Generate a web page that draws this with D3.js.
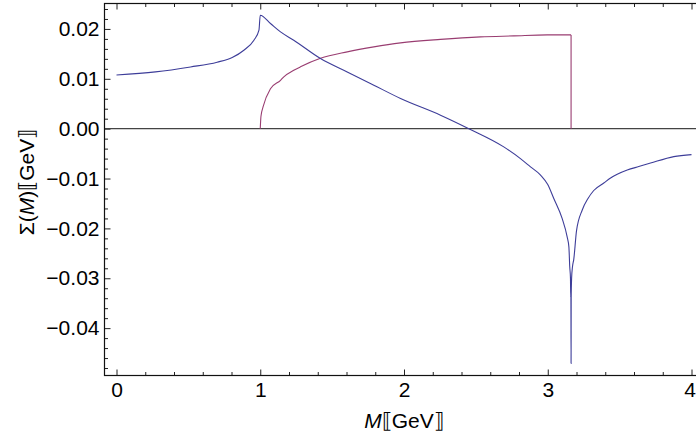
<!DOCTYPE html>
<html>
<head>
<meta charset="utf-8">
<script src="https://cdn.jsdelivr.net/npm/d3@7"></script>
<style>
  html, body { margin: 0; padding: 0; background: #fff; }
  svg { display: block; }
  .tick text { font-family: "Liberation Sans", Arial, sans-serif; font-size: 21px; fill: #000; }
  .lbl { font-family: "Liberation Sans", Arial, sans-serif; font-size: 21px; fill: #000; }
</style>
</head>
<body>
<svg id="chart" width="696" height="438"></svg>
<script>
const blueM = [0, 0.271, 0.515, 0.70, 0.805, 0.886, 0.956, 0.991, 1.0,
  1.071, 1.141, 1.233, 1.419, 1.605, 1.79, 1.976, 2.254, 2.451, 2.694, 2.81,
  2.88, 2.95, 3.0, 3.042, 3.10, 3.135, 3.147, 3.153, 3.158, 3.160, 3.161,
  3.1623, 3.163, 3.166, 3.172, 3.181, 3.20, 3.24, 3.28, 3.32, 3.39, 3.437,
  3.553, 3.633, 3.715, 3.877, 4.0];
const blueSigma = [0.01076, 0.01138, 0.01238, 0.01333, 0.01427, 0.01573, 0.01774, 0.01975, 0.02275,
  0.02108, 0.0194, 0.01774, 0.01407, 0.01138, 0.00872, 0.00605, 0.00271, 0.0, -0.00365, -0.0060,
  -0.00765, -0.0093, -0.0112, -0.0140, -0.0180, -0.0217, -0.0237, -0.0277, -0.0300, -0.0338, -0.0330,
  -0.0471, -0.0340, -0.0300, -0.0277, -0.0262, -0.0205, -0.0163, -0.0140, -0.0124, -0.0109, -0.0099,
  -0.0083, -0.0076, -0.0069, -0.0056, -0.0052];

// imaginary part (red), drops back to zero at the threshold
const redM = [1.0, 1.005, 1.02, 1.071, 1.141, 1.164, 1.233, 1.28, 1.419, 1.605,
  1.79, 1.976, 2.254, 2.532, 2.764, 2.996, 3.1623];
const redSigma = [0, 0.0025, 0.0044, 0.0080, 0.0097, 0.0104, 0.0117, 0.0124, 0.0141, 0.0154,
  0.0164, 0.0172, 0.0179, 0.0184, 0.0186, 0.0188, 0.0188];
const redDropSigma = 0;

const xTicks = [0, 1, 2, 3, 4];
const xMinor = [0.2, 0.4, 0.6, 0.8, 1.2, 1.4, 1.6, 1.8, 2.2, 2.4, 2.6, 2.8, 3.2, 3.4, 3.6, 3.8];
const yTicks = [-0.04, -0.03, -0.02, -0.01, 0, 0.01, 0.02];
const yTickLabels = ["\u22120.04", "\u22120.03", "\u22120.02", "\u22120.01", "0.00", "0.01", "0.02"];

const frameL = 104.5, frameR = 703, frameT = 3.5, frameB = 375.5;

const x = d3.scaleLinear().domain([-0.0835, 4.08]).range([frameL, frameR]);
const y = d3.scaleLinear().domain([-0.0495, 0.0251]).range([frameB, frameT]);

const svg = d3.select('#chart');

// minor y ticks, every 0.002
const yMinor = d3.range(-0.048, 0.0245, 0.002).filter(v => Math.abs(Math.round(v * 100) - v * 100) > 1e-6);

function noDomain(g) { g.select('.domain').remove(); }

svg.append('g')
  .attr('transform', `translate(${frameL},0)`)
  .call(d3.axisLeft(y).tickValues(yMinor).tickSize(-3.5).tickFormat(''))
  .call(noDomain);
svg.append('g')
  .attr('transform', `translate(${frameL},0)`)
  .call(d3.axisLeft(y).tickValues(yTicks).tickSize(-6).tickPadding(5)
    .tickFormat((d, i) => yTickLabels[i]))
  .call(noDomain);

svg.append('g')
  .attr('transform', `translate(0,${frameB})`)
  .call(d3.axisBottom(x).tickValues(xMinor).tickSize(-3.5).tickFormat(''))
  .call(noDomain);
const xAxisG = svg.append('g')
  .attr('transform', `translate(0,${frameB})`)
  .call(d3.axisBottom(x).tickValues(xTicks).tickSize(-6).tickPadding(7).tickFormat(d3.format('d')))
  .call(noDomain);
// keep the last label inside the window
xAxisG.selectAll('.tick text').filter(d => d === 4).attr('dx', -2);

svg.append('g')
  .attr('transform', `translate(0,${frameT})`)
  .call(d3.axisTop(x).tickValues(xMinor).tickSize(-3.5).tickFormat(''))
  .call(noDomain);
svg.append('g')
  .attr('transform', `translate(0,${frameT})`)
  .call(d3.axisTop(x).tickValues(xTicks).tickSize(-6).tickFormat(''))
  .call(noDomain);

svg.selectAll('.tick line').attr('stroke', '#222').attr('stroke-width', 1);

// zero axis
svg.append('line')
  .attr('x1', frameL).attr('x2', frameR)
  .attr('y1', y(0)).attr('y2', y(0))
  .attr('stroke', '#444').attr('stroke-width', 1.3);

const smooth = d3.line().curve(d3.curveMonotoneX).x(d => x(d[0])).y(d => y(d[1]));
const straight = d3.line().x(d => x(d[0])).y(d => y(d[1]));

const redPts = redM.map((m, i) => [m, redSigma[i]]);
const redLast = redPts[redPts.length - 1];
svg.append('path')
  .datum(redPts)
  .attr('d', smooth)
  .attr('fill', 'none')
  .attr('stroke', 'rgb(153,61,113)')
  .attr('stroke-width', 1.1);
svg.append('path')
  .datum([redLast, [redLast[0], redDropSigma]])
  .attr('d', straight)
  .attr('fill', 'none')
  .attr('stroke', 'rgb(153,61,113)')
  .attr('stroke-width', 1.1);

svg.append('path')
  .datum(blueM.map((m, i) => [m, blueSigma[i]]))
  .attr('d', smooth)
  .attr('fill', 'none')
  .attr('stroke', 'rgb(61,61,153)')
  .attr('stroke-width', 1.1);

// frame
svg.append('rect')
  .attr('x', frameL).attr('y', frameT)
  .attr('width', frameR - frameL).attr('height', frameB - frameT)
  .attr('fill', 'none').attr('stroke', '#111').attr('stroke-width', 1.2);

// axis labels
const xl = svg.append('text').attr('class', 'lbl')
  .attr('x', x(2)).attr('y', 428).attr('text-anchor', 'middle');
xl.append('tspan').attr('font-style', 'italic').text('M');
xl.append('tspan').text('\u27E6GeV\u27E7');

const yl = svg.append('text').attr('class', 'lbl')
  .attr('transform', 'translate(34,182) rotate(-90)').attr('text-anchor', 'middle');
yl.append('tspan').text('\u03A3(');
yl.append('tspan').attr('font-style', 'italic').text('M');
yl.append('tspan').text(')\u27E6GeV\u27E7');
</script>
</body>
</html>
